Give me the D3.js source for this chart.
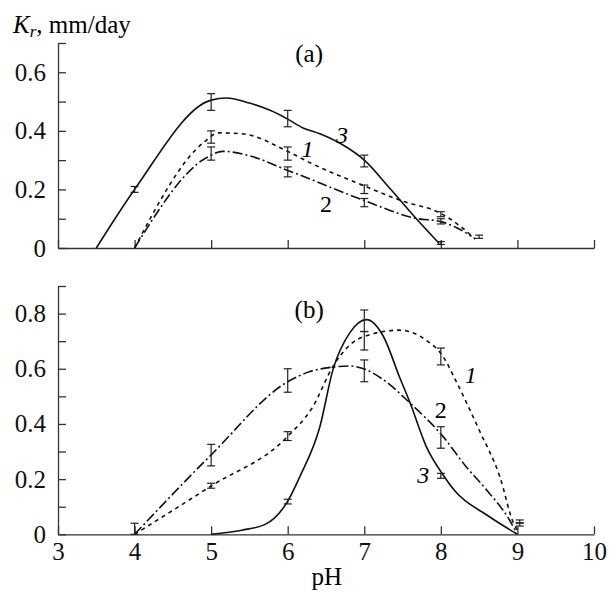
<!DOCTYPE html>
<meta charset="utf-8">
<html lang="en"></html>

<!-- load d3.js -->
<script src="https://d3js.org/d3.v7.min.js"></script>

<style>
    body { margin: 0; background: #fff; }
</style>

<div id="chart"></div>

<script>

    // ---- data: pH vs Kr (mm/day) ----
    // panel (a)
    const a1 = [[4,0],[4.9,0.36],[5.1,0.393],[5.4,0.39],[6,0.33],[6.3,0.29],[7,0.212],[7.5,0.16],[8,0.118],[8.25,0.075],[8.45,0.03]];
    const a2 = [[4,0],[4.95,0.31],[5.15,0.33],[5.5,0.315],[6,0.265],[6.16,0.249],[7,0.162],[7.68,0.101],[8,0.09],[8.2,0.07],[8.4,0.04]];
    const a3 = [[3.5,0],[4,0.2],[5,0.505],[5.2,0.512],[5.5,0.495],[5.77,0.47],[6,0.44],[6.2,0.41],[6.42,0.39],[6.7,0.355],[7,0.3],[7.33,0.205],[7.68,0.1],[7.98,0.015]];
    // error bars [pH, low, high]
    const a1err = [[5,0.358,0.40],[6,0.30,0.345],[7,0.186,0.215],[8,0.107,0.124],[8.5,0.033,0.044]];
    const a2err = [[5,0.30,0.345],[6,0.243,0.277],[7,0.141,0.169],[8,0.082,0.10]];
    const a3err = [[4,0.19,0.21],[5,0.47,0.527],[6,0.414,0.47],[7,0.277,0.317],[8,0.012,0.022]];

    // panel (b)
    const b1 = [[4,0],[5,0.175],[6,0.355],[6.33,0.463],[6.59,0.608],[6.81,0.686],[7.03,0.72],[7.46,0.74],[7.8,0.705],[8.03,0.644],[8.19,0.56],[8.5,0.378],[8.77,0.209],[8.95,0.04],[9,0.015]];
    const b2 = [[4,0],[5,0.288],[6,0.553],[6.29,0.59],[6.59,0.606],[6.81,0.61],[7.03,0.596],[7.25,0.56],[7.6,0.475],[8.03,0.354],[8.33,0.245],[8.6,0.16],[8.9,0.05],[8.97,0.015]];
    const b3 = [[5,0],[5.4,0.015],[5.7,0.035],[6,0.12],[6.16,0.21],[6.42,0.39],[6.59,0.596],[6.81,0.73],[7.03,0.778],[7.25,0.717],[7.46,0.57],[7.6,0.475],[7.81,0.318],[8.03,0.215],[8.19,0.155],[8.6,0.07],[9,0]];
    const b1err = [[5,0.167,0.185],[6,0.34,0.372],[7,0.668,0.735],[8,0.614,0.675],[9.03,0.042,0.052]];
    const b2err = [[4,0,0.04],[5,0.248,0.326],[6,0.515,0.60],[7,0.553,0.632],[8,0.312,0.39],[9.03,0.03,0.04]];
    const b3err = [[6,0.11,0.127],[7,0.735,0.813],[8,0.203,0.221]];

    const xTicks = [3,4,5,6,7,8,9,10];
    const aTicks = [0,0.1,0.2,0.3,0.4,0.5,0.6,0.7];
    const bTicks = [0,0.1,0.2,0.3,0.4,0.5,0.6,0.7,0.8,0.9];

    const FONT = "'Liberation Serif', 'Times New Roman', serif";

    // ---- sizes ----
    const W = 612, H = 591;
    const svg = d3.select("#chart").append("svg")
        .attr("width", W)
        .attr("height", H);

    const x = d3.scaleLinear().domain([3, 10]).range([58, 594]);
    const yA = d3.scaleLinear().domain([0, 0.7]).range([248, 43]);
    const yB = d3.scaleLinear().domain([0, 0.9]).range([534.3, 286]);

    const styles = {
        1: {dash: "4,4"},
        2: {dash: "10,3,2,3"},
        3: {dash: null}
    };

    function drawPanel(y, yTicks, showX, series, errs) {
        const g = svg.append("g");

        // x axis
        const xa = g.append("g")
            .attr("transform", "translate(0," + y(0) + ")")
            .call(d3.axisBottom(x).tickValues(xTicks).tickSize(-8).tickSizeOuter(0)
                .tickPadding(8).tickFormat(showX ? d3.format("d") : ""));
        // y axis, labels on every other tick
        const ya = g.append("g")
            .attr("transform", "translate(" + x(3) + ",0)")
            .call(d3.axisLeft(y).tickValues(yTicks).tickSize(-8).tickSizeOuter(0)
                .tickPadding(12)
                .tickFormat(function(d) {
                    const v = Math.round(d * 10);
                    if (v % 2 !== 0) return "";
                    return v === 0 ? "0" : d3.format(".1f")(d);
                }));
        [xa, ya].forEach(function(a) {
            a.selectAll("path, line").attr("stroke", "#333").attr("stroke-width", 1.3);
            a.selectAll("text").attr("font-size", "25px").attr("fill", "#111")
                .style("font-family", FONT);
        });

        const line = d3.line()
            .x(function(d) { return x(d[0]); })
            .y(function(d) { return y(d[1]); })
            .curve(d3.curveMonotoneX);

        series.forEach(function(s) {
            g.append("path")
                .datum(s.data)
                .attr("d", line)
                .attr("fill", "none")
                .attr("stroke", "#111")
                .attr("stroke-width", 1.6)
                .attr("stroke-dasharray", styles[s.id].dash);
        });

        // error bars
        const all = [];
        errs.forEach(function(e) { e.forEach(function(d) { all.push(d); }); });
        const eb = g.selectAll(".err").data(all).enter().append("g");
        eb.append("line")
            .attr("x1", function(d) { return x(d[0]); })
            .attr("x2", function(d) { return x(d[0]); })
            .attr("y1", function(d) { return y(d[1]); })
            .attr("y2", function(d) { return y(d[2]); });
        eb.append("line")
            .attr("x1", function(d) { return x(d[0]) - 4; })
            .attr("x2", function(d) { return x(d[0]) + 4; })
            .attr("y1", function(d) { return y(d[1]); })
            .attr("y2", function(d) { return y(d[1]); });
        eb.append("line")
            .attr("x1", function(d) { return x(d[0]) - 4; })
            .attr("x2", function(d) { return x(d[0]) + 4; })
            .attr("y1", function(d) { return y(d[2]); })
            .attr("y2", function(d) { return y(d[2]); });
        eb.selectAll("line").attr("stroke", "#222").attr("stroke-width", 1.2);
        return g;
    }

    const gA = drawPanel(yA, aTicks, false,
        [{id: 1, data: a1}, {id: 2, data: a2}, {id: 3, data: a3}],
        [a1err, a2err, a3err]);
    const gB = drawPanel(yB, bTicks, true,
        [{id: 1, data: b1}, {id: 2, data: b2}, {id: 3, data: b3}],
        [b1err, b2err, b3err]);

    // curve numbers
    const aLabels = [{t: "1", x: 6.26, y: 0.31, it: true}, {t: "2", x: 6.5, y: 0.123, it: false}, {t: "3", x: 6.71, y: 0.36, it: true}];
    const bLabels = [{t: "1", x: 8.39, y: 0.55, it: true}, {t: "2", x: 8.0, y: 0.42, it: false}, {t: "3", x: 7.77, y: 0.186, it: true}];

    function numLabels(g, y, labels) {
        g.selectAll(".num").data(labels).enter().append("text")
            .attr("x", function(d) { return x(d.x); })
            .attr("y", function(d) { return y(d.y); })
            .attr("text-anchor", "middle")
            .attr("font-size", "24px")
            .attr("font-style", function(d) { return d.it ? "italic" : "normal"; })
            .style("font-family", FONT)
            .text(function(d) { return d.t; });
    }
    numLabels(gA, yA, aLabels);
    numLabels(gB, yB, bLabels);

    // panel letters
    gA.append("text").attr("x", x(6.28)).attr("y", yA(0.634))
        .attr("text-anchor", "middle").attr("font-size", "25px")
        .style("font-family", FONT).text("(a)");
    gB.append("text").attr("x", x(6.28)).attr("y", yB(0.785))
        .attr("text-anchor", "middle").attr("font-size", "25px")
        .style("font-family", FONT).text("(b)");

    // axis titles
    const yt = svg.append("text").attr("x", 13).attr("y", 33)
        .attr("font-size", "25px").style("font-family", FONT);
    yt.append("tspan").attr("font-style", "italic").text("K");
    yt.append("tspan").attr("font-style", "italic").attr("font-size", "17px").attr("dy", 4).text("r");
    yt.append("tspan").attr("dy", -4).text(", mm/day");

    svg.append("text").attr("x", x(6.51)).attr("y", 585)
        .attr("text-anchor", "middle").attr("font-size", "25px")
        .style("font-family", FONT).text("pH");
</script>
